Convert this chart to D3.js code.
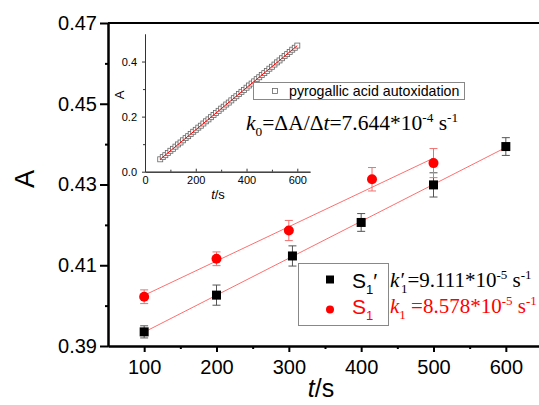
<!DOCTYPE html>
<html>
<head>
<meta charset="utf-8">
<script src="https://cdn.jsdelivr.net/npm/d3@7"></script>
<style>
  body { margin: 0; background: #fff; }
  svg { display: block; }
</style>
</head>
<body>
<svg width="539" height="405"></svg>
<script>
// main chart: two sample series with error bars
const tBlack = [100, 200, 305, 400, 500, 600];
const aBlack = [0.3935, 0.4026, 0.4123, 0.4206, 0.4299, 0.4394];
const eBlack = [0.0015, 0.0025, 0.0025, 0.0022, 0.003, 0.0022];
const tRed = [100, 200, 300, 415, 500];
const aRed = [0.4022, 0.4116, 0.4186, 0.4313, 0.4353];
const eRed = [0.0017, 0.0017, 0.0025, 0.0029, 0.0036];
const xTicks = [100, 200, 300, 400, 500, 600];
const yTicks = [0.39, 0.41, 0.43, 0.45, 0.47];

// inset: pyrogallic acid autoxidation
const tInset = [60, 70, 80, 90, 100, 110, 120, 130, 140, 150, 160, 170, 180, 190, 200,
  210, 220, 230, 240, 250, 260, 270, 280, 290, 300, 310, 320, 330, 340, 350, 360, 370,
  380, 390, 400, 410, 420, 430, 440, 450, 460, 470, 480, 490, 500, 510, 520, 530, 540,
  550, 560, 570, 580, 590, 600];
const aInset = [0.045, 0.053, 0.060, 0.068, 0.076, 0.083, 0.091, 0.099, 0.106, 0.114,
  0.122, 0.129, 0.137, 0.145, 0.152, 0.160, 0.167, 0.175, 0.183, 0.190, 0.198, 0.206,
  0.213, 0.221, 0.229, 0.236, 0.244, 0.251, 0.259, 0.267, 0.274, 0.282, 0.290, 0.297,
  0.305, 0.313, 0.320, 0.328, 0.336, 0.343, 0.351, 0.358, 0.366, 0.374, 0.381, 0.389,
  0.397, 0.404, 0.412, 0.420, 0.427, 0.435, 0.443, 0.450, 0.458];
const insetXTicks = [0, 200, 400, 600];
const insetYTicks = [0.0, 0.2, 0.4];

const SANS = 'Liberation Sans, Arial, sans-serif';
const SERIF = 'Liberation Serif, Times New Roman, serif';
const RED = '#ff0000';
const FIT = '#ff6f6f';

const svg = d3.select('svg');

function fit(xs, ys) {
  const mx = d3.mean(xs), my = d3.mean(ys);
  const b = d3.sum(xs, (x, i) => (x - mx) * (ys[i] - my)) / d3.sum(xs, x => (x - mx) ** 2);
  return x => my + b * (x - mx);
}

// text with italic / subscript / superscript pieces
function rich(sel, parts, size) {
  let shift = 0;
  parts.forEach(([txt, kind, dx]) => {
    const ts = sel.append('tspan').text(txt);
    const target = kind === 'sub' ? size * 0.3 : kind === 'sup' ? -size * 0.38 : 0;
    ts.attr('dy', target - shift);
    shift = target;
    if (kind === 'sub' || kind === 'sup') ts.attr('font-size', size * 0.62);
    if (kind === 'i') ts.attr('font-style', 'italic');
    if (dx) ts.attr('dx', dx);
  });
}

// ---------- main plot ----------
const x = d3.scaleLinear().domain([50, 650]).range([108, 542]);
const y = d3.scaleLinear().domain([0.39, 0.47]).range([346, 23]);

const main = svg.append('g');

function styleAxis(g, size) {
  g.selectAll('.domain').attr('stroke-width', 2).attr('stroke', '#000');
  g.selectAll('.tick line').attr('stroke-width', 2).attr('stroke', '#000');
  g.selectAll('text').attr('font-family', SANS).attr('font-size', size).attr('fill', '#000');
}

main.append('g')
  .attr('transform', 'translate(0,' + y(0.39) + ')')
  .call(d3.axisBottom(x).tickValues(d3.range(150, 651, 100)).tickSize(3).tickSizeOuter(0).tickFormat(''))
  .call(g => styleAxis(g, 20));
main.append('g')
  .attr('transform', 'translate(0,' + y(0.39) + ')')
  .call(d3.axisBottom(x).tickValues(xTicks).tickSize(6).tickPadding(8).tickSizeOuter(0))
  .call(g => styleAxis(g, 20));

main.append('g')
  .attr('transform', 'translate(' + x(50) + ',0)')
  .call(d3.axisLeft(y).tickValues([0.40, 0.42, 0.44, 0.46]).tickSize(3).tickSizeOuter(0).tickFormat(''))
  .call(g => styleAxis(g, 20));
main.append('g')
  .attr('transform', 'translate(' + x(50) + ',0)')
  .call(d3.axisLeft(y).tickValues(yTicks).tickSize(8).tickPadding(3).tickSizeOuter(0).tickFormat(d3.format('.2f')))
  .call(g => styleAxis(g, 20));

// top frame
main.append('line')
  .attr('x1', x(50)).attr('x2', x(650))
  .attr('y1', y(0.47)).attr('y2', y(0.47))
  .attr('stroke', '#000').attr('stroke-width', 2);

// axis titles
main.append('text')
  .attr('transform', 'translate(34,' + 179 + ') rotate(-90)')
  .attr('text-anchor', 'middle')
  .attr('font-family', SANS).attr('font-size', 27)
  .text('A');
const xt = main.append('text')
  .attr('x', 321).attr('y', 397)
  .attr('text-anchor', 'middle')
  .attr('font-family', SANS).attr('font-size', 25);
xt.append('tspan').attr('font-style', 'italic').text('t');
xt.append('tspan').text('/s');

// fit lines
const fitBlack = fit(tBlack, aBlack);
const fitRed = fit(tRed, aRed);
main.append('line')
  .attr('x1', x(100)).attr('x2', x(600))
  .attr('y1', y(fitBlack(100))).attr('y2', y(fitBlack(600)))
  .attr('stroke', FIT).attr('stroke-width', 1);
main.append('line')
  .attr('x1', x(100)).attr('x2', x(500))
  .attr('y1', y(fitRed(100))).attr('y2', y(fitRed(500)))
  .attr('stroke', FIT).attr('stroke-width', 1);

// error bars
function errorBars(ts, as, es, color) {
  const g = main.append('g').attr('stroke', color).attr('stroke-width', 1).attr('fill', 'none');
  ts.forEach((t, i) => {
    const cx = x(t), y0 = y(as[i] - es[i]), y1 = y(as[i] + es[i]);
    g.append('path').attr('d',
      'M' + cx + ',' + y0 + 'V' + y1 +
      'M' + (cx - 4) + ',' + y0 + 'H' + (cx + 4) +
      'M' + (cx - 4) + ',' + y1 + 'H' + (cx + 4));
  });
}
errorBars(tBlack, aBlack, eBlack, '#555');
errorBars(tRed, aRed, eRed, '#f07070');

main.append('g').selectAll('rect')
  .data(tBlack)
  .join('rect')
  .attr('x', d => x(d) - 4.5).attr('y', (d, i) => y(aBlack[i]) - 4.5)
  .attr('width', 9).attr('height', 9)
  .attr('fill', '#000');
main.append('g').selectAll('circle')
  .data(tRed)
  .join('circle')
  .attr('cx', d => x(d)).attr('cy', (d, i) => y(aRed[i]))
  .attr('r', 5)
  .attr('fill', RED);

// legend
const leg = main.append('g');
leg.append('rect')
  .attr('x', 298.5).attr('y', 263.5).attr('width', 90).attr('height', 62)
  .attr('fill', '#fff').attr('stroke', '#888').attr('stroke-width', 1);
leg.append('rect').attr('x', 326).attr('y', 275.5).attr('width', 8).attr('height', 8).attr('fill', '#000');
leg.append('circle').attr('cx', 330).attr('cy', 309.5).attr('r', 4).attr('fill', RED);
const l1 = leg.append('text').attr('x', 352).attr('y', 288)
  .attr('font-family', SANS).attr('font-size', 21).attr('fill', '#000');
rich(l1, [['S'], ['1', 'sub'], ['\u2032', null]], 21);
const l2 = leg.append('text').attr('x', 352).attr('y', 314)
  .attr('font-family', SANS).attr('font-size', 21).attr('fill', RED);
rich(l2, [['S'], ['1', 'sub']], 21);

const k1b = main.append('text').attr('x', 390).attr('y', 287)
  .attr('font-family', SERIF).attr('font-size', 21).attr('fill', '#000');
rich(k1b, [['k\u2032', 'i'], ['1', 'sub', -3], ['=9.111*10', null], ['-5', 'sup'], [' s', null], ['-1', 'sup']], 21);
const k1r = main.append('text').attr('x', 390).attr('y', 313)
  .attr('font-family', SERIF).attr('font-size', 21).attr('fill', RED);
rich(k1r, [['k', 'i'], ['1', 'sub'], [' =8.578*10', null], ['-5', 'sup'], [' s', null], ['-1', 'sup']], 21);

// ---------- inset ----------
const xi = d3.scaleLinear().domain([0, 650]).range([145, 310]);
const yi = d3.scaleLinear().domain([0, 0.5]).range([171.7, 34]);
const inset = svg.append('g');

function styleInset(g) {
  g.selectAll('.domain').attr('stroke', '#333').attr('stroke-width', 1);
  g.selectAll('.tick line').attr('stroke', '#333').attr('stroke-width', 1);
  g.selectAll('text').attr('font-family', SANS).attr('font-size', 11).attr('fill', '#000');
}
inset.append('g')
  .attr('transform', 'translate(0,' + yi(0) + ')')
  .call(d3.axisBottom(xi).tickValues([100, 300, 500]).tickSize(-2).tickSizeOuter(0).tickFormat(''))
  .call(styleInset);
inset.append('g')
  .attr('transform', 'translate(0,' + yi(0) + ')')
  .call(d3.axisBottom(xi).tickValues(insetXTicks).tickSize(-3).tickPadding(5).tickSizeOuter(0))
  .call(styleInset)
  .call(g => g.selectAll('text').attr('y', 5));
inset.append('g')
  .attr('transform', 'translate(' + xi(0) + ',0)')
  .call(d3.axisLeft(yi).tickValues([0.1, 0.3]).tickSize(2).tickSizeOuter(0).tickFormat(''))
  .call(styleInset);
inset.append('g')
  .attr('transform', 'translate(' + xi(0) + ',0)')
  .call(d3.axisLeft(yi).tickValues(insetYTicks).tickSize(3).tickPadding(5).tickSizeOuter(0).tickFormat(d3.format('.1f')))
  .call(styleInset);

inset.append('text')
  .attr('transform', 'translate(124,95) rotate(-90)')
  .attr('text-anchor', 'middle')
  .attr('font-family', SANS).attr('font-size', 13)
  .text('A');
const it = inset.append('text')
  .attr('x', 218).attr('y', 199)
  .attr('text-anchor', 'middle')
  .attr('font-family', SANS).attr('font-size', 13);
it.append('tspan').attr('font-style', 'italic').text('t');
it.append('tspan').text('/s');

inset.append('g').selectAll('rect')
  .data(tInset)
  .join('rect')
  .attr('x', d => xi(d) - 2.5).attr('y', (d, i) => yi(aInset[i]) - 2.5)
  .attr('width', 5).attr('height', 5)
  .attr('fill', '#fff').attr('stroke', '#666').attr('stroke-width', 0.8);
const fitInset = fit(tInset, aInset);
inset.append('line')
  .attr('x1', xi(60)).attr('x2', xi(600))
  .attr('y1', yi(fitInset(60))).attr('y2', yi(fitInset(600)))
  .attr('stroke', RED).attr('stroke-width', 1);

// inset legend
inset.append('rect')
  .attr('x', 253.5).attr('y', 82.5).attr('width', 211).attr('height', 17)
  .attr('fill', '#fff').attr('stroke', '#888').attr('stroke-width', 1);
inset.append('rect')
  .attr('x', 272.5).attr('y', 88.5).attr('width', 5).attr('height', 5)
  .attr('fill', '#fff').attr('stroke', '#666').attr('stroke-width', 0.8);
inset.append('text')
  .attr('x', 289).attr('y', 96)
  .attr('font-family', SANS).attr('font-size', 14.2)
  .text('pyrogallic acid autoxidation');

const k0 = inset.append('text').attr('x', 246).attr('y', 130)
  .attr('font-family', SERIF).attr('font-size', 21.5).attr('fill', '#000');
rich(k0, [['k', 'i'], ['0', 'sub'], ['=\u0394A/\u0394', null], ['t', 'i'], ['=7.644*10', null], ['-4', 'sup'], [' s', null], ['-1', 'sup']], 21.5);
</script>
</body>
</html>
